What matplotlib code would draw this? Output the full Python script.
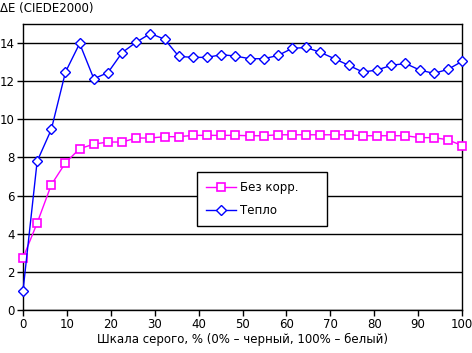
import numpy as np
import matplotlib.pyplot as plt

# gray scale positions, 32 steps 0..100 %
gray_pct = np.linspace(0, 100, 32)

bez_korr = [2.73, 4.56, 6.57, 7.72, 8.46, 8.70, 8.81, 8.81, 9.02, 9.02,
            9.09, 9.09, 9.16, 9.16, 9.16, 9.16, 9.14, 9.14, 9.19, 9.19,
            9.19, 9.19, 9.19, 9.19, 9.14, 9.14, 9.14, 9.14, 9.04, 9.04,
            8.93, 8.62]
teplo = [1.00, 7.80, 9.47, 12.48, 13.98, 12.13, 12.45, 13.50, 14.05, 14.50,
         14.20, 13.30, 13.25, 13.25, 13.39, 13.32, 13.18, 13.18, 13.35, 13.72,
         13.77, 13.51, 13.18, 12.83, 12.48, 12.59, 12.83, 12.93, 12.59, 12.41,
         12.62, 13.04]

labels = ['Без корр.', 'Тепло']
x_ticks = np.arange(0, 101, 10)
y_ticks = np.arange(0, 15, 2)

plt.rcParams['font.family'] = ['DejaVu Sans']
plt.rcParams['font.size'] = 8.5

fig = plt.figure(figsize=(4.72, 3.53), dpi=100)
ax = fig.add_axes([0.0487, 0.1218, 0.9303, 0.8102])

ax.plot(gray_pct, bez_korr, color='#FF00FF', lw=1.0, marker='s', ms=5.5,
        mfc='white', mec='#FF00FF', mew=1.2, label=labels[0], zorder=3,
        clip_on=False)
ax.plot(gray_pct, teplo, color='#0000FF', lw=1.0, marker='D', ms=5,
        mfc='white', mec='#0000FF', mew=1.0, label=labels[1], zorder=4,
        clip_on=False)

ax.set_xlim(0, 100)
ax.set_ylim(0, 15)
ax.set_xticks(x_ticks)
ax.set_yticks(y_ticks)
ax.yaxis.grid(True, color='black', lw=1.0)
ax.set_axisbelow(True)
for s in ax.spines.values():
    s.set_color('black')
    s.set_linewidth(1.0)
ax.tick_params(direction='out', length=4, width=1.0, colors='black', pad=2)

ax.set_xlabel('Шкала серого, % (0% – черный, 100% – белый)', labelpad=1)
fig.text(0.0, 0.975, 'ΔE (CIEDE2000)', ha='left', va='center')

# legend box in the middle of the plot
leg = ax.legend(loc='upper left', bbox_to_anchor=(0.396, 0.2825, 0.296, 0.2),
                mode='expand', borderaxespad=0, frameon=True, fancybox=False,
                framealpha=1, edgecolor='black', borderpad=0.75,
                labelspacing=0.9, handlelength=2.6, handletextpad=0.3)
leg.get_frame().set_linewidth(1.0)

fig.savefig('out.png', dpi=100)
